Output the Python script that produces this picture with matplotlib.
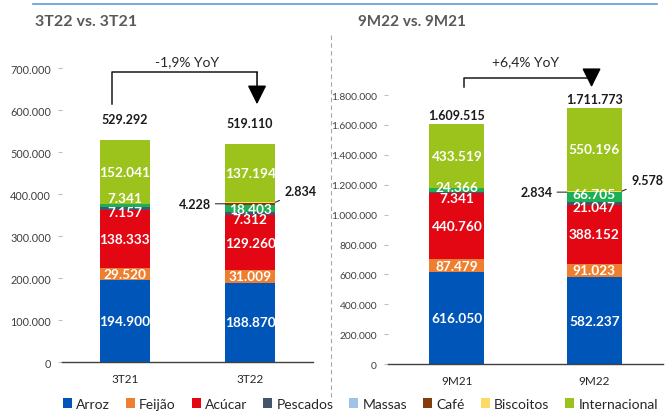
import numpy as np
import matplotlib
matplotlib.use("Agg")
import matplotlib.pyplot as plt
from matplotlib.patches import Patch
from matplotlib.ticker import FuncFormatter

plt.rcParams['font.family'] = ['Lato', 'DejaVu Sans']

# dados (toneladas)
periods = ['3T21', '3T22', '9M21', '9M22']
categories = ['Arroz', 'Feijão', 'Acúcar', 'Pescados', 'Massas', 'Café', 'Biscoitos', 'Internacional']
arroz = [194900, 188870, 616050, 582237]
feijao = [29520, 31009, 87479, 91023]
acucar = [138333, 129260, 440760, 388152]
pescados = [7157, 7312, 7341, 21047]
massas = [7341, 18403, 24366, 66705]
cafe = [0, 4228, 0, 2834]
biscoitos = [0, 2834, 0, 9578]
internacional = [152041, 137194, 433519, 550196]
totals = [529292, 519110, 1609515, 1711773]
yoy = ['-1,9% YoY', '+6,4% YoY']
titles = ['3T22 vs. 3T21', '9M22 vs. 9M21']

series = [arroz, feijao, acucar, pescados, massas, cafe, biscoitos, internacional]
bar_colors = ['#0055B8', '#EE7F31', '#E30613', '#44546A', '#1DAF55', '#843C0C', '#FFD966', '#9BC31C']
legend_colors = ['#0055B8', '#EE7F31', '#E30613', '#44546A', '#9DC3E6', '#843C0C', '#FFD966', '#9BC31C']

# deslocamento dos rótulos de segmentos pequenos (em unidades de dados)
label_shift = {
    (0, 3): -9000, (0, 4): 17000,
    (1, 3): -13000,
    (2, 3): -38000, (2, 4): 20000,
    (3, 3): -22000, (3, 4): 21000,
}

fig = plt.figure(figsize=(6.67, 4.14), dpi=100)
ax1 = fig.add_axes([0.093, 0.123, 0.376, 0.780])
ax2 = fig.add_axes([0.582, 0.118, 0.412, 0.785])

def fmt(v):
    return f'{int(v):,}'.replace(',', '.')

panels = [
    (ax1, [0, 1], 769000, 700000, 100000, (690000, 614000, 717000), (-0.1, 0.055), 11, 7.8),
    (ax2, [2, 3], 2174000, 1800000, 200000, (1913000, 1853000, 2027000), (0.05, -0.02), 2, 7.4),
]

for pi, (ax, idx, ytop, ymax, ystep, brk, brk_dx, tot_off, ysize) in enumerate(panels):
    x = np.arange(len(idx))
    bottom = np.zeros(len(idx))
    for si, s in enumerate(series):
        vals = np.array([s[i] for i in idx], dtype=float)
        ax.bar(x, vals, 0.4, bottom=bottom, color=bar_colors[si], zorder=2)
        for j, i in enumerate(idx):
            if vals[j] <= 0 or si in (5, 6):
                continue
            yc = bottom[j] + vals[j] / 2 + label_shift.get((i, si), 0)
            ax.text(x[j], yc, fmt(vals[j]), ha='center', va='center',
                    color='white', fontsize=9.8, fontweight='bold', zorder=4)
        bottom += vals

    # totais
    for j, i in enumerate(idx):
        ax.annotate(fmt(totals[i]), (x[j], totals[i]), xytext=(0, tot_off),
                    textcoords='offset points', ha='center', va='bottom',
                    fontsize=9, fontweight='bold', color='#1a1a1a')

    # café / biscoitos com linhas de chamada (segunda barra)
    i = idx[1]
    base = arroz[i] + feijao[i] + acucar[i] + pescados[i] + massas[i]
    yc_cafe = base + cafe[i] / 2
    yc_bisc = base + cafe[i] + biscoitos[i] / 2
    ax.annotate(fmt(cafe[i]), (1 - 0.2, yc_cafe), xytext=(-10, 0), textcoords='offset points',
                ha='right', va='center', fontsize=9, fontweight='bold', color='#1a1a1a',
                arrowprops=dict(arrowstyle='-', color='#333333', lw=0.8, shrinkA=1, shrinkB=0))
    ax.annotate(fmt(biscoitos[i]), (1 + 0.2, yc_bisc), xytext=(7, 8), textcoords='offset points',
                ha='left', va='center', fontsize=9, fontweight='bold', color='#1a1a1a',
                annotation_clip=False,
                arrowprops=dict(arrowstyle='-', color='#333333', lw=0.8, shrinkA=2, shrinkB=0))

    # colchete YoY
    top, tip, ty = brk
    xl = x[0] + brk_dx[0]
    xr = x[1] + brk_dx[1]
    ax.plot([xl, xl, xr], [tip, top, top], color='#1a1a1a', lw=1.1, zorder=3)
    ax.annotate('', xy=(xr, tip), xytext=(xr, top),
                arrowprops=dict(arrowstyle='-|>,head_length=0.9,head_width=0.45',
                                mutation_scale=13, color='black', lw=1.1,
                                shrinkA=0, shrinkB=0))
    ax.text((x[0] + x[1]) / 2, ty, yoy[pi], ha='center', va='center',
            fontsize=10, color='#262626')

    ax.set_xlim(-0.5, 1.5)
    ax.set_ylim(0, ytop)
    ax.set_yticks(np.arange(0, ymax + 1, ystep))
    ax.yaxis.set_major_formatter(FuncFormatter(lambda v, p: fmt(v)))
    ax.set_xticks(x)
    ax.set_xticklabels([periods[i] for i in idx])
    ax.tick_params(axis='y', labelsize=ysize, labelcolor='#404040', color='#bfbfbf', length=3, pad=5)
    ax.tick_params(axis='x', labelsize=8.5, labelcolor='#262626', length=0, pad=8)
    for sp in ['top', 'right', 'left']:
        ax.spines[sp].set_visible(False)
    ax.spines['bottom'].set_color('#404040')
    ax.spines['bottom'].set_linewidth(1.0)

# títulos
fig.text(35 / 667, 1 - 22 / 414, titles[0], ha='left', va='center', fontsize=11.5,
         fontweight='bold', color='#595959')
fig.text(358 / 667, 1 - 22 / 414, titles[1], ha='left', va='center', fontsize=11,
         fontweight='bold', color='#595959')

# linha azul no topo e separador tracejado
fig.add_artist(plt.Line2D([33 / 667, 657 / 667], [1 - 5 / 414, 1 - 5 / 414],
                          color='#5B9BD5', lw=1.2))
fig.add_artist(plt.Line2D([331 / 667, 331 / 667], [1 - 36 / 414, 1 - 398 / 414],
                          color='#a6a6a6', lw=0.8, ls=(0, (4, 3))))

handles = [Patch(facecolor=c, label=n) for c, n in zip(legend_colors, categories)]
fig.legend(handles=handles, loc='center', bbox_to_anchor=(0.54, 1 - 405 / 414), ncol=8,
           frameon=False, fontsize=10, handlelength=0.65, handleheight=0.65,
           handletextpad=0.3, columnspacing=1.15, labelcolor='#262626')

fig.savefig('out.png', dpi=100)
